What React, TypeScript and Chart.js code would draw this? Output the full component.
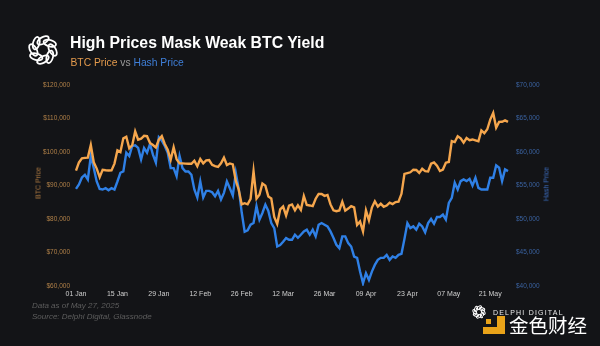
import React, { useEffect, useRef } from "react";
import { Chart, registerables } from "chart.js";

Chart.register(...registerables);

const MONTHS = ["Jan", "Feb", "Mar", "Apr", "May"];
const MONTH_DAYS = [31, 28, 31, 30, 27];

// daily categories 01 Jan .. 27 May 2025
const categories: string[] = [];
MONTHS.forEach((m, mi) => {
  for (let d = 1; d <= MONTH_DAYS[mi]; d++) {
    categories.push(`${d < 10 ? "0" + d : d} ${m}`);
  }
});

const xTickLabels = ["01 Jan", "15 Jan", "29 Jan", "12 Feb", "26 Feb", "12 Mar", "26 Mar", "09 Apr", "23 Apr", "07 May", "21 May"];

const btcPrice = [
  // Jan
  94419, 96886, 98107, 98237, 98315, 102078, 96922, 95044, 92485, 94701,
  94567, 94488, 94516, 96535, 100505, 99987, 104077, 104556, 101090, 102016,
  106147, 103654, 103958, 104819, 104714, 102682, 102087, 101332, 103703, 104736,
  102405,
  // Feb
  100656, 97688, 101406, 97872, 96616, 96593, 96529, 96482, 96501, 97401,
  95748, 97885, 96624, 97508, 97580, 96176, 95773, 95540, 96636, 98334,
  96126, 96577, 96273, 91418, 88737, 84348, 84705, 84374,
  // Mar
  86032, 94248, 86065, 87222, 90623, 89962, 86742, 86155, 80601, 78533,
  82863, 83722, 81067, 83969, 84344, 82580, 84075, 82718, 86855, 84168,
  84044, 83832, 86054, 87499, 87471, 86901, 87177, 84353, 82597, 82334,
  82548,
  // Apr
  85170, 82485, 83102, 83844, 83504, 78214, 79235, 76272, 82573, 79626,
  83404, 85287, 83684, 84542, 83668, 84033, 84895, 84450, 85063, 85174,
  87518, 93442, 93691, 93944, 94720, 94646, 93754, 94978, 94284, 94207,
  // May
  96492, 96910, 95891, 94315, 94748, 96803, 97033, 103241, 102970, 104696,
  104106, 102812, 104169, 103539, 103744, 103489, 103191, 106446, 105606, 106791,
  109679, 111673, 107287, 108994, 109035, 109440, 108994,
];

const hashPrice = [
  // Jan
  54500, 55150, 56200, 56600, 55900, 59400, 57600, 55600, 54500, 54400,
  54600, 54300, 54600, 54400, 55600, 56900, 57100, 59900, 59400, 60900,
  61000, 60600, 58900, 60600, 59900, 61200, 59600, 58400, 62200, 61700,
  60900,
  // Feb
  59900, 57600, 57600, 56400, 59400, 57600, 57100, 57100, 56600, 54400,
  53200, 55600, 53200, 54200, 54200, 54000, 53400, 54200, 52900, 53900,
  55600, 54600, 53500, 56900, 54500, 51000, 48100, 48300,
  // Mar
  49150, 49400, 51900, 49900, 50900, 52150, 51200, 49400, 48650, 45900,
  46100, 46600, 47150, 46900, 46900, 47650, 47200, 47650, 48150, 48400,
  47650, 48400, 47400, 49150, 49400, 49150, 48900, 48150, 47200, 46150,
  45650,
  // Apr
  47400, 47400, 46400, 45900, 44400, 44200, 42150, 40400, 41900, 40900,
  42150, 43150, 43900, 44200, 44200, 44650, 43900, 44400, 44200, 44650,
  44800, 47000, 49400, 48650, 48900, 48400, 49300, 48900, 48000, 49400,
  // May
  50000, 49300, 50300, 50300, 50650, 49900, 52400, 53150, 55400, 54400,
  55650, 55900, 55650, 56000, 55000, 56150, 54650, 54400, 54400, 54400,
  56150, 56150, 58000, 57650, 55650, 57400, 57150,
];

const BG = "#131417";
const ORANGE = "#f5a64d";
const BLUE = "#2f80e6";
const FONT = "'Liberation Sans', Arial, sans-serif";

const fmt = (v: number) => "$" + Math.round(v).toLocaleString("en-US");

function KnotLogo({ cx, cy, r, stroke }: { cx: number; cy: number; r: number; stroke: number }) {
  const rings = [0, 1, 2, 3, 4, 5, 6, 7];
  const size = r * 2 + 6;
  return (
    <svg
      width={size}
      height={size}
      style={{ position: "absolute", left: cx - size / 2, top: cy - size / 2 }}
      viewBox={`${-size / 2} ${-size / 2} ${size} ${size}`}
    >
      {rings.map((i) => {
        const deg = i * 45;
        const a = (deg * Math.PI) / 180;
        const rr = r * 0.6;
        const x = Math.cos(a) * rr;
        const y = Math.sin(a) * rr;
        return (
          <ellipse
            key={i}
            cx={x}
            cy={y}
            rx={r * 0.4}
            ry={r * 0.2}
            transform={`rotate(${deg + 60} ${x} ${y})`}
            fill="none"
            stroke="#ffffff"
            strokeWidth={stroke}
          />
        );
      })}
    </svg>
  );
}

export default function App() {
  const canvasRef = useRef<HTMLCanvasElement | null>(null);

  useEffect(() => {
    const canvas = canvasRef.current;
    if (!canvas) return;
    const chart = new Chart(canvas, {
      type: "line",
      data: {
        labels: categories,
        datasets: [
          {
            label: "BTC Price",
            data: btcPrice,
            borderColor: ORANGE,
            borderWidth: 2.4,
            pointRadius: 0,
            tension: 0,
            yAxisID: "y",
          },
          {
            label: "Hash Price",
            data: hashPrice,
            borderColor: BLUE,
            borderWidth: 2.4,
            pointRadius: 0,
            tension: 0,
            yAxisID: "y1",
          },
        ],
      },
      options: {
        animation: false,
        responsive: false,
        devicePixelRatio: 1,
        layout: { padding: { left: 0, right: 0, top: 85, bottom: 40 } },
        plugins: { legend: { display: false }, tooltip: { enabled: false } },
        scales: {
          x: {
            type: "category",
            offset: false,
            grid: { display: false, drawTicks: false, tickLength: 0 },
            border: { display: false },
            ticks: {
              autoSkip: false,
              maxRotation: 0,
              padding: 4,
              color: "#cfcfcf",
              font: { family: FONT, size: 7 },
              callback: (_v: any, i: number) => (i % 14 === 0 ? xTickLabels[i / 14] : null),
            },
            afterFit: (s: any) => {
              s.height = 20;
            },
          },
          y: {
            position: "left",
            min: 60000,
            max: 120000,
            grid: { display: false, drawTicks: false, tickLength: 0 },
            border: { display: false },
            ticks: {
              stepSize: 10000,
              padding: 6,
              color: "#b08048",
              font: { family: FONT, size: 6.5 },
              callback: (v: any) => fmt(Number(v)),
            },
            afterFit: (s: any) => {
              s.width = 76;
            },
          },
          y1: {
            position: "right",
            min: 40000,
            max: 70000,
            grid: { display: false, drawTicks: false, tickLength: 0 },
            border: { display: false },
            ticks: {
              stepSize: 5000,
              padding: 8,
              color: "#3a62a0",
              font: { family: FONT, size: 6.5 },
              callback: (v: any) => fmt(Number(v)),
            },
            afterFit: (s: any) => {
              s.width = 92;
            },
          },
        },
      },
    });
    return () => chart.destroy();
  }, []);

  const abs = (o: React.CSSProperties): React.CSSProperties => ({ position: "absolute", whiteSpace: "nowrap", ...o });

  return (
    <div
      style={{
        position: "fixed",
        left: 0,
        top: 0,
        width: 600,
        height: 346,
        background: BG,
        overflow: "hidden",
        fontFamily: FONT,
      }}
    >
      <canvas ref={canvasRef} width={600} height={346} style={{ position: "absolute", left: 0, top: 0, width: 600, height: 346 }} />

      <KnotLogo cx={42.5} cy={49.5} r={16} stroke={1.8} />

      <div style={abs({ left: 70, top: 35, fontSize: 15.8, lineHeight: "15.8px", fontWeight: 700, color: "#ffffff" })}>
        High Prices Mask Weak BTC Yield
      </div>
      <div style={abs({ left: 70.5, top: 58, fontSize: 10.3, lineHeight: "10.3px", color: "#9a9a9a" })}>
        <span style={{ color: "#e39a4c" }}>BTC Price</span> vs <span style={{ color: "#3f7fd8" }}>Hash Price</span>
      </div>

      <div
        style={abs({
          left: 38,
          top: 183,
          fontSize: 7,
          lineHeight: "7px",
          color: "#b07a40",
          transform: "translate(-50%, -50%) rotate(-90deg)",
        })}
      >
        BTC Price
      </div>
      <div
        style={abs({
          left: 546,
          top: 184,
          fontSize: 7,
          lineHeight: "7px",
          color: "#3a6cc0",
          transform: "translate(-50%, -50%) rotate(-90deg)",
        })}
      >
        Hash Price
      </div>

      <div style={abs({ left: 32, top: 302, fontSize: 8, lineHeight: "8px", fontStyle: "italic", color: "#5e5e5e" })}>
        Data as of May 27, 2025
      </div>
      <div style={abs({ left: 32, top: 312.5, fontSize: 8, lineHeight: "8px", fontStyle: "italic", color: "#5e5e5e" })}>
        Source: Delphi Digital, Glassnode
      </div>

      <KnotLogo cx={479} cy={312} r={7} stroke={1} />
      <div style={abs({ left: 493, top: 309, fontSize: 7, lineHeight: "7px", letterSpacing: 1.2, color: "#e8e8e8" })}>
        DELPHI DIGITAL
      </div>
      <div style={abs({ left: 483, top: 316, width: 22, height: 18, background: "#e9a319" })} />
      <div style={abs({ left: 483, top: 316, width: 14, height: 11, background: BG })} />
      <div style={abs({ left: 486, top: 319, width: 5, height: 5, background: "#e9a319" })} />
      <div
        style={abs({
          left: 509,
          top: 315,
          fontSize: 19.5,
          lineHeight: "20px",
          color: "#ffffff",
          fontFamily: "'Noto Sans CJK SC', sans-serif",
        })}
      >
        金色财经
      </div>
    </div>
  );
}
